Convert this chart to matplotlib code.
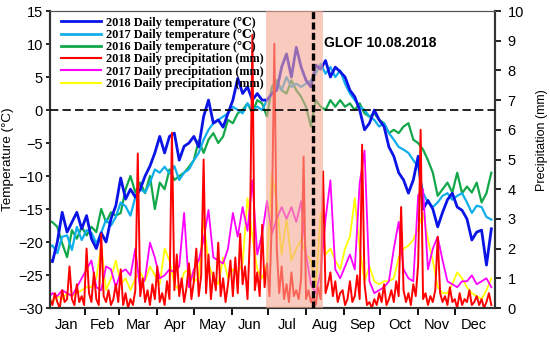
import matplotlib
matplotlib.use("Agg")
import matplotlib.pyplot as plt
from matplotlib.lines import Line2D
import numpy as np

plt.rcParams['font.family'] = ['Liberation Sans', 'DejaVu Sans']

# day of year for the sampled values
t_days = np.arange(1, 366, 4)
p18_days = np.arange(1, 366, 2)

t2018 = [-22.5, -23, -20, -15.5, -18.5, -17, -15.5, -18, -16, -19.5,
         -21, -18.6, -20, -16.5, -14.5, -10.3, -13.5, -12, -13.2, -12,
         -10, -8.5, -6.5, -4, -6.5, -4, -3.5, -7.6, -5.5, -5,
         -4, -5.6, -1, 1.5, -2, -1.5, -2.6, -0.5, 1.5, 4.8,
         2.5, 3.5, 1.5, 2.5, 1.5, 1.5, 2.5, 3, 6.5, 8.5,
         5, 9.5, 6.5, 4.5, 3.5, 6.8, 6.2, 7.5, 5, 6.5,
         5.8, 5, 3, 2, 0, -3, -2, 0, -1.5, -2.5,
         -5.6, -7, -9.5, -10.6, -12.6, -10.6, -7, -15, -13.7, -15,
         -17.7, -15.5, -13.6, -12.6, -14.7, -15.2, -16.5, -19.7, -18.5, -18.2,
         -23.5, -18]
t2017 = [-21, -20.5, -21.7, -19.2, -19, -21.2, -17.7, -19.7, -18.2, -18.6,
         -20.2, -18.6, -16.6, -17.5, -16.2, -14, -14.6, -16, -13.2, -12,
         -12.5, -11, -9, -9.5, -8.6, -9.6, -8.5, -10.6, -9.5, -9,
         -7.6, -6.5, -4.5, -3, -2, -1.5, -1, -0.5, 0.5, 0,
         -0.5, 1, 0, 0.5, 0, 1.5, 2.5, 4, 3, 5,
         3.5, 4, 3.5, 4, 4.5, 5.5, 7, 5.5, 6.5, 5,
         6, 4, 2.5, 1.5, 0.5, 0, -1, -1.5, -2.5, -2,
         -3.5, -4.5, -5.6, -6, -6.5, -7.6, -8.6, -12.6, -14, -14.7,
         -14, -13, -12.6, -13.6, -13, -12.6, -14, -15.6, -14.5, -14.7,
         -16.2, -16.6]
t2016 = [-16.6, -17, -17.7, -20.2, -22.3, -18.2, -19.5, -17.7, -19, -17.7,
         -18.5, -15, -17, -15.5, -16, -15.6, -12, -10, -12.5, -11,
         -12.6, -10, -15, -11, -12, -9, -10.6, -10, -9.5, -8.6,
         -7.6, -4.6, -6.5, -4.5, -3.5, -5, -4, -1.5, -2, -0.5,
         0, 1, -0.5, 1.5, 1, -1, 3.5, 4.5, 3, 2.5,
         4.5, 3, 2, 0.5, -2.5, 1.5, 0.5, 0, 1.5, 0.5,
         1.5, 0.5, 1, 0, 1, -0.5, -1, -0.5, -1.5, -2,
         -3.5, -3, -3.5, -2.5, -2, -4.5, -5, -6, -7.6, -9.5,
         -13, -12, -11, -12.5, -9.5, -12.6, -11.6, -12.5, -11, -14,
         -12.6, -9.5]

# daily precipitation (mm)
p2018 = [0.1, 0.3, 0.1, 0.5, 0.2, 0.0, 0.6, 0.2, 0.3, 1.4,
         0.3, 0.1, 0.8, 0.2, 0.4, 0.1, 2.0, 0.5, 0.2, 1.2,
         0.3, 0.1, 2.5, 0.4, 0.2, 0.6, 0.1, 0.3, 0.8, 0.2,
         1.3, 0.1, 0.5, 0.0, 0.3, 0.1, 0.6, 5.2, 0.4, 1.0,
         0.2, 0.6, 0.1, 0.8, 0.3, 1.4, 0.2, 0.5, 0.1, 0.9,
         0.3, 5.9, 0.6, 1.8, 0.4, 1.0, 0.2, 0.7, 1.5, 0.3,
         0.9, 2.0, 0.4, 1.1, 5.0, 0.5, 1.8, 0.3, 1.2, 0.6,
         2.2, 0.4, 1.0, 0.2, 0.8, 1.6, 0.4, 1.7, 0.5, 2.5,
         0.8, 1.4, 0.3, 2.4, 9.2, 0.6, 1.2, 0.4, 2.8, 0.7,
         1.5, 0.4, 3.0, 8.9, 2.0, 0.5, 1.4, 0.3, 0.8, 0.2,
         1.2, 0.4, 0.6, 0.3, 1.0, 5.1, 0.3, 0.6, 0.2, 0.4,
         0.1, 0.7, 0.3, 4.6, 0.5, 0.8, 1.2, 0.4, 0.9, 0.2,
         0.5, 0.6, 0.1, 0.3, 0.9, 0.2, 0.4, 1.1, 0.3, 5.5,
         0.8, 0.1, 0.2, 0.0, 0.3, 0.1, 0.5, 0.2, 0.8, 0.1,
         0.3, 0.6, 0.2, 0.9, 0.4, 3.4, 0.6, 0.2, 0.5, 0.1,
         0.8, 0.4, 1.5, 6.0, 0.3, 0.5, 0.1, 0.4, 0.2, 0.6,
         2.4, 0.5, 0.2, 0.4, 0.1, 0.7, 0.2, 0.3, 0.0, 0.5,
         0.1, 0.3, 0.2, 0.6, 0.1, 0.2, 0.4, 0.1, 0.3, 0.0,
         0.2, 0.5, 0.1]
p2017 = [0.3, 0.5, 0.4, 0.6, 0.5, 0.4, 0.7, 1.0, 1.3, 1.6,
         0.7, 0.6, 1.4, 1.3, 0.7, 1.2, 1.3, 1.1, 2.0, 0.6,
         1.0, 2.2, 1.7, 1.0, 1.1, 1.3, 1.2, 1.4, 3.2, 0.7,
         1.3, 1.6, 2.3, 3.3, 1.7, 1.6, 1.5, 2.0, 3.2, 2.4,
         3.4, 2.6, 4.3, 1.8, 2.5, 3.6, 2.5, 3.0, 3.4, 3.0,
         3.4, 2.9, 3.6, 1.8, 0.8, 0.5, 1.2, 3.0, 4.3, 1.3,
         1.0, 1.4, 1.8, 1.3, 4.2, 5.3, 0.9, 0.5, 0.6, 0.7,
         0.9, 2.0, 2.9, 1.3, 1.0, 0.9, 3.8, 4.0, 1.3, 2.0,
         2.4, 1.6, 0.9, 0.8, 0.7, 0.9, 0.9, 1.1, 0.8, 0.9,
         1.0, 0.7]
p2016 = [0.3, 0.2, 0.4, 0.3, 0.5, 0.4, 0.5, 0.6, 0.7, 0.7,
         1.0, 2.1, 0.6, 1.0, 1.6, 0.8, 1.0, 0.6, 1.0, 1.2,
         0.9, 1.4, 1.1, 0.8, 2.0, 1.6, 0.8, 0.6, 1.2, 1.3,
         0.9, 1.0, 3.0, 1.5, 1.0, 0.8, 1.7, 1.0, 1.3, 1.2,
         1.5, 3.7, 2.4, 1.3, 1.0, 1.5, 4.5, 3.6, 1.8, 3.0,
         1.6, 2.0, 2.3, 1.8, 1.6, 0.7, 3.2, 1.8, 2.0, 1.6,
         1.3, 2.0, 2.4, 3.7, 2.0, 0.9, 1.4, 0.9, 0.8, 0.9,
         0.9, 1.0, 1.7, 2.0, 2.1, 2.3, 2.7, 3.2, 2.3, 1.6,
         0.7, 0.5, 0.5, 0.8, 1.2, 1.0, 0.7, 0.5, 0.4, 0.3,
         0.6, 1.0]

months = ["Jan", "Feb", "Mar", "Apr", "May", "Jun",
          "Jul", "Aug", "Sep", "Oct", "Nov", "Dec"]
month_start = [1, 32, 60, 91, 121, 152, 182, 213, 244, 274, 305, 335, 366]

glof_day = 219
shade = (180, 227)

c18, c17, c16 = "#0a14e6", "#10aeea", "#12a84a"
p18c, p17c, p16c = "#ff0000", "#ff00ff", "#ffff00"

fig = plt.figure(figsize=(5.5, 3.4), dpi=100)
ax = fig.add_axes([0.0909, 0.0941, 0.8091, 0.8735])
ax2 = ax.twinx()

ax.plot(t_days, t2016, color=c16, lw=1.6)
ax.plot(t_days, t2017, color=c17, lw=1.6)
ax.plot(t_days, t2018, color=c18, lw=2.0)

ax2.plot(t_days, p2016, color=p16c, lw=1.3)
ax2.plot(t_days, p2017, color=p17c, lw=1.3)
ax2.plot(p18_days, p2018, color=p18c, lw=1.4)

ax2.axvspan(shade[0], shade[1], color=(0.96, 0.66, 0.58), alpha=0.6, lw=0, zorder=5)
ax2.axvline(glof_day, color="k", lw=2.4, ls=(0, (2.1, 1.0)), zorder=7)
ax2.plot([3, 368], [0, 0], transform=ax.transData, color="k", lw=1.2,
         ls=(0, (5, 2.5)), zorder=6)

ax.set_xlim(3, 368)
ax.set_ylim(-30, 15)
ax.set_yticks(range(-30, 16, 5))
ax2.set_ylim(0, 10)
ax2.set_yticks(range(0, 11))

ax.set_xticks(month_start[1:-1])
ax.set_xticklabels([])
mids = [(a + b) / 2 for a, b in zip(month_start[:-1], month_start[1:])]
ax.set_xticks(mids, minor=True)
ax.set_xticklabels(months, minor=True, fontsize=10.5)
ax.tick_params(axis="x", which="minor", length=0, pad=7)
ax.tick_params(axis="x", which="major", direction="out", length=5, width=1.3)
ax.tick_params(axis="y", direction="out", length=3, width=1.2, labelsize=10.5, pad=2)
ax2.tick_params(axis="y", direction="out", length=4, width=1.2, labelsize=10.5, pad=5)

for a in (ax, ax2):
    for s in ("left", "right", "bottom"):
        a.spines[s].set_linewidth(1.5)
        a.spines[s].set_color("#333333")
    a.spines["top"].set_linewidth(0.8)
    a.spines["top"].set_color("#555555")

ax.set_ylabel("Temperature (°C)", fontsize=9.7)
ax.yaxis.set_label_coords(-0.081, 0.5)
ax2.set_ylabel("Precipitation (mm)", fontsize=9, rotation=90)
ax2.yaxis.set_label_coords(1.092, 0.566)

ax2.text(0.616, 0.893, "GLOF 10.08.2018", transform=ax2.transAxes,
         fontsize=10, fontweight="bold", va="center", ha="left", zorder=8)

handles = [Line2D([], [], color=c18, lw=2.0), Line2D([], [], color=c17, lw=2.0),
           Line2D([], [], color=c16, lw=2.0), Line2D([], [], color=p18c, lw=1.5),
           Line2D([], [], color=p17c, lw=1.5), Line2D([], [], color=p16c, lw=1.5)]
labels = ["2018 Daily temperature (℃)", "2017 Daily temperature (℃)",
          "2016 Daily temperature (℃)", "2018 Daily precipitation (mm)",
          "2017 Daily precipitation (mm)", "2016 Daily precipitation (mm)"]
leg = ax2.legend(handles, labels, loc="upper left", bbox_to_anchor=(0.005, 1.01),
                 frameon=False, handlelength=3.3, handletextpad=0.4,
                 labelspacing=0.02, borderpad=0.2,
                 prop={"family": ["Liberation Serif", "DejaVu Serif", "DejaVu Sans"],
                       "weight": "bold", "size": 8.8})
leg.set_zorder(9)

fig.savefig("out.png", dpi=100)
